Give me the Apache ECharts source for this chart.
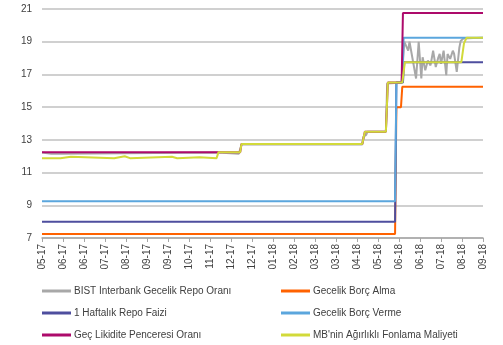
<!DOCTYPE html>
<html>
<head>
<meta charset="utf-8">
<script src="https://cdn.jsdelivr.net/npm/echarts@6/dist/echarts.min.js"></script>
<style>
  html, body { margin: 0; padding: 0; background: #ffffff; }
  #chart { width: 503px; height: 345px; }
</style>
</head>
<body>
<div id="chart"></div>
<script>
// Trading-day index on the x axis; one tick every 16 trading days.
const tickLabels = ['05-17','06-17','06-17','07-17','08-17','09-17','09-17','10-17','11-17','12-17','12-17',
                    '01-18','02-18','03-18','03-18','04-18','05-18','06-18','06-18','07-18','08-18','09-18'];
const daysPerTick = 16;

// [trading day, rate %]
const bistRepo = [
  [0,12.22],[7,12.15],[15,12.15],[16,12.22],[134,12.22],[135,12.15],[150,12.15],[152,12.72],
  [222,12.72],[223,12.62],[224,12.72],[244,12.72],[245,13.2],[247,13.3],[248,13.5],[262,13.5],
  [263,16.45],[274,16.5],[276,19.0],[279,18.45],[280,19.0],[283,17.65],[285,16.75],[287,19.0],
  [289,16.75],[290,18.05],[292,17.25],[294,17.85],[296,17.55],[298,18.45],[300,17.45],[302,18.05],
  [303,18.25],[304,17.65],[306,18.45],[308,16.95],[309,18.25],[311,17.95],[313,18.45],[314,18.25],
  [316,17.15],[318,18.65],[319,19.05],[321,19.2],[336,19.25]
];
const onBorrowing = [[0,7.25],[269,7.25],[270,15],[273.5,15],[274.5,16.25],[336,16.25]];
const oneWeekRepo = [[0,8],[269,8],[270,16.5],[275,16.5],[276,17.75],[336,17.75]];
const onLending = [[0,9.25],[269,9.25],[270,16.5],[274.5,16.5],[275.5,19.25],[336,19.25]];
const lateLiquidity = [[0,12.25],[151,12.25],[152,12.75],[244,12.75],[246,13.5],[262,13.5],
  [263.5,16.5],[274,16.5],[275,20.75],[336,20.75]];
const avgFundingCost = [
  [0,11.88],[14,11.88],[15,11.97],[22,11.97],[23,11.88],[55,11.88],[56,12.0],[63,12.0],[64,11.88],
  [67,11.88],[68,11.97],[99,11.97],[100,11.88],[103,11.88],[104,11.93],[120,11.93],[121,11.88],
  [133,11.88],[134.5,12.25],[151,12.25],[152,12.75],[244,12.75],[246,13.5],[262,13.5],[263.5,16.5],
  [274.5,16.5],[276.5,17.75],[319.5,17.75],[321.5,18.9],[323.5,19.25],[336,19.25]
];

const names = ['BIST Interbank Gecelik Repo Oranı','Gecelik Borç Alma','1 Haftalık Repo Faizi',
               'Gecelik Borç Verme','Geç Likidite Penceresi Oranı',"MB'nin Ağırlıklı Fonlama Maliyeti"];
const colors = ['#A8A8A8','#FF6200','#4E4E9E','#5BA6DD','#AD0A6B','#D2DA3A'];
const seriesData = [bistRepo, onBorrowing, oneWeekRepo, onLending, lateLiquidity, avgFundingCost];

const font = 'Liberation Sans, Arial, sans-serif';
const chart = echarts.init(document.getElementById('chart'), null, { renderer: 'canvas' });

const legendBase = {
  orient: 'vertical', padding: 0, itemGap: 12, itemWidth: 29, itemHeight: 3, icon: 'rect',
  textStyle: { fontFamily: font, fontSize: 10, color: '#404040', padding: [0, 0, 0, -2] }
};

chart.setOption({
  animation: false,
  backgroundColor: '#ffffff',
  grid: { left: 42, right: 20, top: 9, bottom: 107 },
  legend: [
    Object.assign({}, legendBase, { left: 42, top: 286, data: [names[0], names[2], names[4]] }),
    Object.assign({}, legendBase, { left: 281, top: 286, data: [names[1], names[3], names[5]] })
  ],
  xAxis: {
    type: 'value', min: 0, max: 336, interval: daysPerTick,
    axisLine: { lineStyle: { color: '#A6A6A6', width: 1.5 } },
    axisTick: { show: true, length: 4, lineStyle: { color: '#A6A6A6' } },
    splitLine: { show: false },
    axisLabel: {
      rotate: 90, margin: 6, fontFamily: font, fontSize: 10, color: '#404040',
      formatter: v => tickLabels[Math.round(v / daysPerTick)] || ''
    }
  },
  yAxis: {
    type: 'value', min: 7, max: 21, interval: 2,
    axisLine: { show: false }, axisTick: { show: false },
    splitLine: { lineStyle: { color: '#C0C0C0', width: 1.5 } },
    axisLabel: { margin: 10, fontFamily: font, fontSize: 10, color: '#404040' }
  },
  series: seriesData.map((d, i) => ({
    name: names[i], type: 'line', data: d, showSymbol: false, symbol: 'none',
    color: colors[i], lineStyle: { width: 2, color: colors[i] }
  }))
});
</script>
</body>
</html>
